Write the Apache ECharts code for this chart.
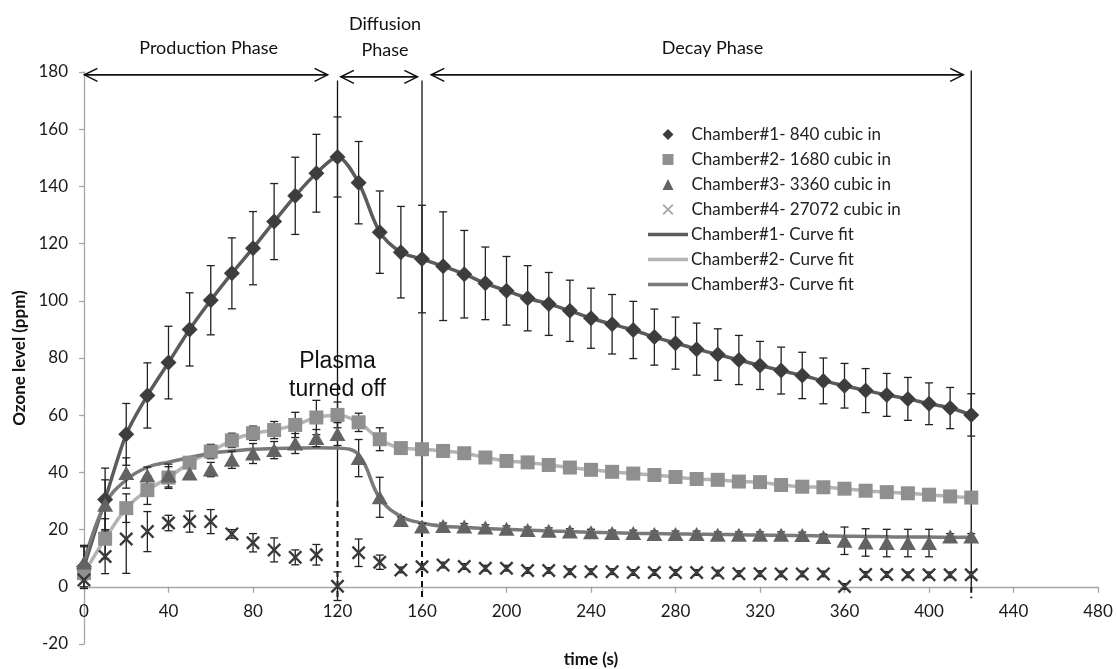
<!DOCTYPE html>
<html>
<head>
<meta charset="utf-8">
<script src="https://cdn.jsdelivr.net/npm/echarts@6/dist/echarts.min.js"></script>
<style>
  html, body { margin: 0; padding: 0; background: #ffffff; }
  #chart { width: 1117px; height: 669px; }
</style>
</head>
<body>
<div id="chart"></div>
<script>
// Sampling times (s)
const times = [0, 10, 20, 30, 40, 50, 60, 70, 80, 90, 100, 110, 120, 130, 140, 150, 160, 170, 180, 190, 200,
  210, 220, 230, 240, 250, 260, 270, 280, 290, 300, 310, 320, 330, 340, 350, 360, 370, 380, 390, 400, 410, 420];

// Ozone level (ppm) per chamber, with measurement spread
const ch1 = [7, 30.5, 53.3, 66.9, 78.4, 90, 100.2, 109.6, 118.4, 127.7, 136.7, 144.6, 150.3, 141.3, 124, 117, 114.6,
  112.1, 109.3, 106.1, 103.5, 100.9, 98.9, 96.5, 93.9, 91.8, 89.8, 87.3, 85.2, 83.1, 81.2, 79.3, 77.4, 75.6, 73.9,
  72, 70.3, 68.6, 67.1, 65.7, 64, 62.5, 60.1];
const ch1Err = [7, 11, 10.8, 11.4, 12.7, 12.8, 12.1, 12.4, 12.8, 13.3, 13.5, 13.6, 14, 14.4, 14.4, 16, 18.8, 19,
  15.3, 12.7, 12, 11.4, 11, 10.7, 10.5, 10.4, 10, 9.8, 9.1, 9.1, 9, 8.6, 8.4, 8.2, 8.1, 8, 7.8, 7.7, 7.5, 7.5, 7.3,
  7.2, 7.4];

const ch2 = [4.8, 16.8, 27.5, 33.8, 38.2, 43.4, 47.3, 51.2, 53.7, 54.8, 56.6, 59.2, 60.1, 57.5, 51.6, 48.5, 48.1,
  47.5, 46.7, 45.2, 44, 43.5, 42.6, 41.7, 40.9, 40.2, 39.6, 39.1, 38.4, 37.7, 37.4, 36.8, 36.6, 35.6, 35, 34.8,
  34.3, 33.6, 33.1, 32.7, 32.2, 31.6, 31.2];
const ch2Err = [2, 7, 5, 5, 3.8, 2, 2.5, 2.5, 2.5, 3, 4.4, 6, 4.5, 3.2, 4, 1, 1, 1, 1, 1, 1, 1, 1, 1, 1, 1, 1, 1,
  1, 1, 1, 1, 1, 1, 1, 1, 1, 1, 1, 1, 1, 1, 1];

const ch3 = [8.5, 28.7, 39.8, 38.9, 38.9, 39.6, 41, 44.4, 46.6, 47.8, 50.1, 52, 53.4, 45, 31.3, 23.4, 21.1, 21.3,
  21.1, 20.7, 20.3, 19.9, 19.6, 19.3, 19.1, 18.8, 18.8, 18.5, 18.5, 18.5, 18.2, 18.2, 18.2, 18.2, 18.1, 17.4, 16.1,
  15.5, 15.3, 15.3, 15.3, 17.6, 17.6];
const ch3Err = [6, 8.7, 5.3, 3, 4, 2, 2.5, 3, 3.5, 3, 3.5, 3, 4, 6.5, 7, 1, 1, 1, 1, 1, 1, 1, 1, 1, 1, 1, 1, 1, 1,
  1, 1, 1, 1, 1, 1, 1, 4.8, 4.8, 4.8, 4.8, 4.8, 1, 1];
const ch3Fit = [8.8, 29, 37.4, 41.8, 43.6, 45.2, 46.7, 47.5, 48.1, 48.4, 48.5, 48.6, 48.5, 46.2, 31, 24.6, 22.3,
  21.2, 20.8, 20.4, 20.1, 19.8, 19.5, 19.3, 19.1, 18.9, 18.7, 18.6, 18.5, 18.4, 18.3, 18.2, 18.1, 18, 17.9, 17.8,
  17.7, 17.6, 17.5, 17.4, 17.4, 17.3, 17.3];

const ch4 = [2.4, 10.6, 16.7, 19.3, 22.3, 22.8, 22.8, 18.5, 15.4, 12.9, 10.3, 11.2, 0.2, 11.9, 8.6, 5.9, 7, 7.6,
  7.1, 6.5, 6.5, 5.7, 5.7, 5.3, 5.3, 5.3, 5, 5, 5, 5, 4.8, 4.6, 4.6, 4.5, 4.5, 4.5, 0.1, 4.3, 4.3, 4.2, 4.2, 4.2, 4.2];
const ch4Err = [3, 6, 12, 7, 2.7, 3.7, 4.2, 1.5, 3.2, 4.2, 2.6, 3.6, 5, 4.8, 2.5, 1, 1, 1, 1, 1, 1, 1, 1, 1, 1, 1,
  1, 1, 1, 1, 1, 1, 1, 1, 1, 1, 1, 1, 1, 1, 1, 1, 1];

// Axis ranges
const xMin = 0, xMax = 480, xStep = 40;
const yMin = -20, yMax = 180, yStep = 20;

// Phase markers along the top
const phaseNames = ['Production Phase', 'Diffusion\nPhase', 'Decay Phase'];
const phaseStart = [0.2, 121.6, 164.4];
const phaseEnd = [115.3, 157.8, 416.2];
const phaseLevel = [179, 178.3, 179];
const phaseLabelT = [59, 142.5, 297.5];

// Phase boundary lines: time, top, end of solid part, end of dashed part
const boundaryT = [120, 160, 420];
const boundaryTop = [177, 177, 180.5];
const boundarySolidTo = [30, 30, 0];
const boundaryDashTo = [-4, -4, -4];

const plasmaNote = { t: 120, v: 74, text: 'Plasma\nturned off' };

const names = {
  c1: 'Chamber#1- 840 cubic in',
  c2: 'Chamber#2- 1680 cubic in',
  c3: 'Chamber#3- 3360 cubic in',
  c4: 'Chamber#4- 27072 cubic in',
  f1: 'Chamber#1- Curve fit',
  f2: 'Chamber#2- Curve fit',
  f3: 'Chamber#3- Curve fit'
};

const FONT = 'Lato, "Open Sans", sans-serif';
const crossPath = 'path://M0,1.2 L1.2,0 L5,3.8 L8.8,0 L10,1.2 L6.2,5 L10,8.8 L8.8,10 L5,6.2 L1.2,10 L0,8.8 L3.8,5 Z';

const pairs = vals => times.map((t, i) => [t, vals[i]]);

function errorBars(name, vals, errs) {
  return {
    name: name,
    type: 'custom',
    silent: true,
    z: 3,
    data: times.map((t, i) => [t, vals[i] - errs[i], vals[i] + errs[i]]),
    renderItem: function (params, api) {
      const t = api.value(0);
      const lo = api.coord([t, api.value(1)]);
      const hi = api.coord([t, api.value(2)]);
      const hw = 4;
      const st = { stroke: '#222', lineWidth: 1.3 };
      return {
        type: 'group',
        children: [
          { type: 'line', shape: { x1: lo[0], y1: lo[1], x2: hi[0], y2: hi[1] }, style: st },
          { type: 'line', shape: { x1: hi[0] - hw, y1: hi[1], x2: hi[0] + hw, y2: hi[1] }, style: st },
          { type: 'line', shape: { x1: lo[0] - hw, y1: lo[1], x2: lo[0] + hw, y2: lo[1] }, style: st }
        ]
      };
    }
  };
}

const legendText = { fontFamily: FONT, fontSize: 17, color: '#222', lineHeight: 17 };

// Grid box; the time axis sits on the zero level, so shift it up from the grid bottom
const GRID = { left: 84, right: 19, top: 72, bottom: 25 };
const gridHeight = 669 - GRID.top - GRID.bottom;
const zeroShift = gridHeight * (0 - yMin) / (yMax - yMin);

const chart = echarts.init(document.getElementById('chart'), null, { renderer: 'canvas' });

chart.setOption({
  backgroundColor: '#ffffff',
  animation: false,
  grid: Object.assign({ outerBoundsMode: 'none', containLabel: false }, GRID),
  legend: [
    {
      // measured points
      orient: 'vertical',
      left: 657.5,
      top: 121,
      itemWidth: 11,
      itemHeight: 11,
      itemGap: 8,
      selectedMode: false,
      textStyle: Object.assign({ padding: [0, 0, 0, 13] }, legendText),
      data: [
        { name: names.c1 },
        { name: names.c2 },
        { name: names.c3 },
        { name: names.c4, itemStyle: { color: '#a8a8a8' } }
      ]
    },
    {
      // curve fits
      orient: 'vertical',
      left: 643,
      top: 221,
      itemWidth: 40,
      itemHeight: 3.5,
      itemGap: 8,
      icon: 'rect',
      selectedMode: false,
      textStyle: Object.assign({ padding: [0, 0, 0, -2] }, legendText),
      data: [{ name: names.f1 }, { name: names.f2 }, { name: names.f3 }]
    }
  ],
  xAxis: {
    type: 'value',
    min: xMin,
    max: xMax,
    interval: xStep,
    position: 'bottom',
    offset: -zeroShift,
    name: 'time (s)',
    nameLocation: 'middle',
    nameGap: 64,
    nameTextStyle: { fontFamily: FONT, fontSize: 17, fontWeight: 'bold', color: '#111' },
    axisLine: { onZero: false, lineStyle: { color: '#a6a6a6', width: 1.3 } },
    axisTick: { show: true, length: 6, lineStyle: { color: '#a6a6a6', width: 1.3 } },
    axisLabel: { fontFamily: FONT, fontSize: 17, color: '#1a1a1a', margin: 16 },
    splitLine: { show: false }
  },
  yAxis: {
    type: 'value',
    min: yMin,
    max: yMax,
    interval: yStep,
    name: 'Ozone level (ppm)',
    nameLocation: 'middle',
    nameGap: 51,
    nameRotate: 90,
    nameTextStyle: { fontFamily: FONT, fontSize: 17, fontWeight: 'bold', color: '#111' },
    axisLine: { show: true, onZero: false, lineStyle: { color: '#a6a6a6', width: 1.3 } },
    axisTick: { show: true, length: 5, lineStyle: { color: '#a6a6a6', width: 1.3 } },
    axisLabel: { fontFamily: FONT, fontSize: 17, color: '#1a1a1a', margin: 16 },
    splitLine: { show: false }
  },
  series: [
    // curve fits
    { name: names.f1, type: 'line', data: pairs(ch1), smooth: 0.3, symbol: 'none', z: 2,
      lineStyle: { color: '#5b5b5b', width: 3.5 }, itemStyle: { color: '#5b5b5b' } },
    { name: names.f2, type: 'line', data: pairs(ch2), smooth: 0.3, symbol: 'none', z: 2,
      lineStyle: { color: '#b4b4b4', width: 3.5 }, itemStyle: { color: '#b4b4b4' } },
    { name: names.f3, type: 'line', data: pairs(ch3Fit), smooth: 0.4, symbol: 'none', z: 2,
      lineStyle: { color: '#7a7a7a', width: 3.5 }, itemStyle: { color: '#7a7a7a' } },

    // phase boundary lines
    {
      name: 'boundaries', type: 'custom', silent: true, z: 1,
      data: boundaryT.map((t, i) => [t, boundaryTop[i], boundarySolidTo[i], boundaryDashTo[i]]),
      renderItem: function (params, api) {
        const t = api.value(0);
        const top = api.coord([t, api.value(1)]);
        const mid = api.coord([t, api.value(2)]);
        const bot = api.coord([t, api.value(3)]);
        return {
          type: 'group',
          children: [
            { type: 'line', shape: { x1: top[0], y1: top[1], x2: mid[0], y2: mid[1] },
              style: { stroke: '#111', lineWidth: 1.3 } },
            { type: 'line', shape: { x1: mid[0], y1: mid[1], x2: bot[0], y2: bot[1] },
              style: { stroke: '#111', lineWidth: 2, lineDash: [6, 4] } }
          ]
        };
      }
    },

    // phase arrows and their labels
    {
      name: 'phases', type: 'custom', silent: true, z: 6,
      data: phaseStart.map((s, i) => [s, phaseEnd[i], phaseLevel[i], phaseLabelT[i]]),
      renderItem: function (params, api) {
        const a = api.coord([api.value(0), api.value(2)]);
        const b = api.coord([api.value(1), api.value(2)]);
        const lab = api.coord([api.value(3), api.value(2)]);
        const st = { stroke: '#111', lineWidth: 1.6, fill: null };
        const h = 13, v = 6.5;
        return {
          type: 'group',
          children: [
            { type: 'line', shape: { x1: a[0], y1: a[1], x2: b[0], y2: b[1] }, style: st },
            { type: 'polyline', shape: { points: [[a[0] + h, a[1] - v], [a[0], a[1]], [a[0] + h, a[1] + v]] }, style: st },
            { type: 'polyline', shape: { points: [[b[0] - h, b[1] - v], [b[0], b[1]], [b[0] - h, b[1] + v]] }, style: st },
            { type: 'text', x: lab[0], y: lab[1] - 14,
              style: { text: phaseNames[params.dataIndex], fontFamily: FONT, fontSize: 18, fill: '#111',
                align: 'center', verticalAlign: 'bottom', lineHeight: 26 } }
          ]
        };
      }
    },

    // plasma annotation
    {
      name: 'note', type: 'custom', silent: true, z: 6,
      data: [[plasmaNote.t, plasmaNote.v]],
      renderItem: function (params, api) {
        const p = api.coord([api.value(0), api.value(1)]);
        return {
          type: 'text', x: p[0], y: p[1],
          style: { text: plasmaNote.text, fontFamily: '"Liberation Sans", Arial, sans-serif', fontSize: 23,
            fill: '#111', align: 'center', verticalAlign: 'middle', lineHeight: 28 }
        };
      }
    },

    // error bars
    errorBars('Chamber#1 spread', ch1, ch1Err),
    errorBars('Chamber#2 spread', ch2, ch2Err),
    errorBars('Chamber#3 spread', ch3, ch3Err),
    errorBars('Chamber#4 spread', ch4, ch4Err),

    // measured points
    { name: names.c1, type: 'scatter', data: pairs(ch1), symbol: 'diamond', symbolSize: 16, z: 5,
      itemStyle: { color: '#3d3d3d', opacity: 1 } },
    { name: names.c2, type: 'scatter', data: pairs(ch2), symbol: 'rect', symbolSize: 14, z: 5,
      itemStyle: { color: '#8f8f8f', opacity: 1 } },
    { name: names.c3, type: 'scatter', data: pairs(ch3), symbol: 'triangle', symbolSize: [16, 14], z: 5,
      itemStyle: { color: '#636363', opacity: 1 } },
    { name: names.c4, type: 'scatter', data: pairs(ch4), symbol: crossPath, symbolSize: 14, z: 5,
      itemStyle: { color: '#3a3a3a', opacity: 1 } }
  ]
});
</script>
</body>
</html>
